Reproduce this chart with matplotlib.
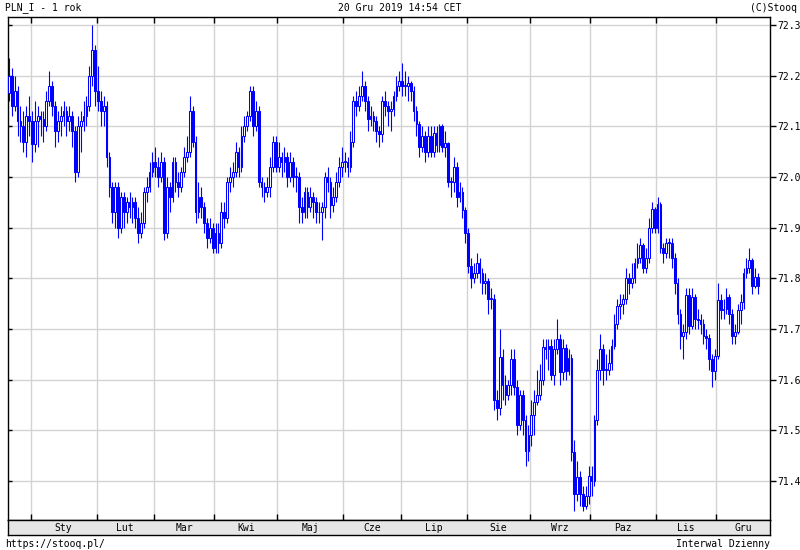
import numpy as np
import pandas as pd
import matplotlib
matplotlib.use("Agg")
import matplotlib.pyplot as plt

# ---------------- data (PLN_I, daily candles, 2018-12-20 .. 2019-12-20) ----------------
dates = pd.bdate_range("2018-12-20", "2019-12-20")

opens = [
    72.165, 72.20, 72.14, 72.17, 72.11, 72.10, 72.07, 72.12,
    72.11, 72.065, 72.11, 72.12, 72.115, 72.10, 72.15, 72.18, 72.14, 72.09, 72.11, 72.12,
    72.13, 72.11, 72.12, 72.09, 72.01, 72.10, 72.11, 72.12, 72.14, 72.20, 72.25,
    72.17, 72.15, 72.13, 72.14, 72.04, 71.98, 71.93, 71.98, 71.90, 71.96,
    71.93, 71.95, 71.94, 71.95, 71.92, 71.89, 71.91, 71.97, 71.98, 72.01,
    72.03, 72.02, 72.00, 72.03, 71.89, 71.98, 71.96, 72.03, 71.99, 71.98,
    72.01, 72.04, 72.05, 72.13, 72.07, 71.93, 71.96, 71.94, 71.91, 71.88, 71.90,
    71.86, 71.89, 71.87, 71.93, 71.92, 71.99, 72.00, 72.01, 72.05, 72.02, 72.08,
    72.10, 72.12, 72.17, 72.10, 72.13, 71.99, 71.98, 71.97, 71.98, 72.02, 72.07,
    72.02, 72.04, 72.03, 72.04, 72.00, 72.03, 72.00, 72.00, 71.94, 71.93, 71.97,
    71.94, 71.96, 71.95, 71.93, 71.93, 71.94, 72.00, 71.99, 71.945, 71.96, 71.99, 72.02,
    72.03, 72.03, 72.02, 72.07, 72.15, 72.14, 72.16, 72.18, 72.15, 72.115,
    72.12, 72.11, 72.09, 72.085, 72.15, 72.14, 72.13, 72.135, 72.16, 72.18,
    72.19, 72.18, 72.18, 72.185, 72.17, 72.13, 72.105, 72.06, 72.08, 72.05, 72.08,
    72.05, 72.087, 72.064, 72.10, 72.06, 72.067, 71.99, 71.99, 72.02, 71.96, 71.97, 71.935,
    71.89, 71.825, 71.80, 71.81, 71.83, 71.81, 71.79, 71.795, 71.76, 71.76, 71.56,
    71.545, 71.645, 71.59, 71.57, 71.59, 71.64, 71.585, 71.51, 71.57, 71.52, 71.46,
    71.49, 71.53, 71.555, 71.57, 71.60, 71.665, 71.66, 71.667, 71.61, 71.66, 71.68,
    71.615, 71.663, 71.617, 71.643, 71.457, 71.375, 71.408, 71.375, 71.35, 71.37,
    71.41, 71.40, 71.52, 71.62, 71.66, 71.62, 71.62, 71.633, 71.666, 71.71, 71.745, 71.75,
    71.76, 71.80, 71.79, 71.80, 71.83, 71.84, 71.865, 71.82, 71.84, 71.90, 71.937,
    71.90, 71.947, 71.86, 71.85, 71.87, 71.87, 71.84, 71.79, 71.73, 71.686, 71.695,
    71.767, 71.705, 71.763, 71.72, 71.717, 71.71, 71.686, 71.683, 71.64, 71.617,
    71.646, 71.757, 71.738, 71.74, 71.764, 71.73, 71.686, 71.695, 71.738, 71.754,
    71.81, 71.82, 71.836, 71.784, 71.803,
]

closes = [
    72.20, 72.14, 72.17, 72.11, 72.10, 72.07, 72.12, 72.11,
    72.065, 72.11, 72.12, 72.115, 72.10, 72.15, 72.18, 72.14, 72.09, 72.11, 72.12, 72.13,
    72.11, 72.12, 72.09, 72.01, 72.10, 72.11, 72.12, 72.14, 72.20, 72.25, 72.17,
    72.15, 72.13, 72.14, 72.04, 71.98, 71.93, 71.98, 71.90, 71.96, 71.93,
    71.95, 71.94, 71.95, 71.92, 71.89, 71.91, 71.97, 71.98, 72.01, 72.03,
    72.02, 72.00, 72.03, 71.89, 71.98, 71.96, 72.03, 71.99, 71.98, 72.01,
    72.04, 72.05, 72.13, 72.07, 71.93, 71.96, 71.94, 71.91, 71.88, 71.90, 71.86,
    71.89, 71.87, 71.93, 71.92, 71.99, 72.00, 72.01, 72.05, 72.02, 72.08, 72.10,
    72.12, 72.17, 72.10, 72.13, 71.99, 71.98, 71.97, 71.98, 72.02, 72.07, 72.02,
    72.04, 72.03, 72.04, 72.00, 72.03, 72.00, 72.00, 71.94, 71.93, 71.97, 71.94,
    71.96, 71.95, 71.93, 71.93, 71.94, 72.00, 71.99, 71.945, 71.96, 71.99, 72.02, 72.03,
    72.03, 72.02, 72.07, 72.15, 72.14, 72.16, 72.18, 72.15, 72.115, 72.12,
    72.11, 72.09, 72.085, 72.15, 72.14, 72.13, 72.135, 72.16, 72.18, 72.19,
    72.18, 72.18, 72.185, 72.17, 72.13, 72.105, 72.06, 72.08, 72.05, 72.08, 72.05,
    72.087, 72.064, 72.10, 72.06, 72.067, 71.99, 71.99, 72.02, 71.96, 71.97, 71.935, 71.89,
    71.825, 71.80, 71.81, 71.83, 71.81, 71.79, 71.795, 71.76, 71.76, 71.56, 71.545,
    71.645, 71.59, 71.57, 71.59, 71.64, 71.585, 71.51, 71.57, 71.52, 71.46, 71.49,
    71.53, 71.555, 71.57, 71.60, 71.665, 71.66, 71.667, 71.61, 71.66, 71.68, 71.615,
    71.663, 71.617, 71.643, 71.457, 71.375, 71.408, 71.375, 71.35, 71.37, 71.41,
    71.40, 71.52, 71.62, 71.66, 71.62, 71.62, 71.633, 71.666, 71.71, 71.745, 71.75, 71.76,
    71.80, 71.79, 71.80, 71.83, 71.84, 71.865, 71.82, 71.84, 71.90, 71.937, 71.90,
    71.947, 71.86, 71.85, 71.87, 71.87, 71.84, 71.79, 71.73, 71.686, 71.695, 71.767,
    71.705, 71.763, 71.72, 71.717, 71.71, 71.686, 71.683, 71.64, 71.617, 71.646,
    71.757, 71.738, 71.74, 71.764, 71.73, 71.686, 71.695, 71.738, 71.754, 71.81,
    71.82, 71.836, 71.784, 71.803, 71.784,
]

highs = [
    72.235, 72.215, 72.20, 72.18, 72.14, 72.13, 72.14, 72.16,
    72.13, 72.15, 72.14, 72.13, 72.13, 72.17, 72.21, 72.19, 72.15, 72.13, 72.14, 72.15,
    72.14, 72.14, 72.13, 72.10, 72.12, 72.13, 72.15, 72.16, 72.22, 72.30, 72.26,
    72.22, 72.17, 72.16, 72.15, 72.05, 71.99, 71.99, 71.99, 71.97, 71.97,
    71.96, 71.97, 71.96, 71.96, 71.94, 71.93, 71.98, 72.00, 72.03, 72.05,
    72.06, 72.04, 72.05, 72.04, 72.00, 71.99, 72.04, 72.04, 72.01, 72.02,
    72.06, 72.08, 72.16, 72.14, 72.08, 71.99, 71.98, 71.95, 71.92, 71.92, 71.91,
    71.91, 71.91, 71.95, 71.95, 72.00, 72.02, 72.03, 72.07, 72.06, 72.10, 72.12,
    72.13, 72.18, 72.18, 72.15, 72.14, 72.00, 71.99, 72.00, 72.04, 72.08, 72.08,
    72.07, 72.05, 72.06, 72.05, 72.05, 72.04, 72.02, 72.01, 71.96, 71.98, 71.98,
    71.98, 71.97, 71.96, 71.95, 71.95, 72.01, 72.02, 72.00, 71.98, 72.01, 72.04, 72.06,
    72.05, 72.04, 72.09, 72.16, 72.17, 72.18, 72.21, 72.19, 72.16, 72.14,
    72.13, 72.12, 72.10, 72.16, 72.17, 72.15, 72.15, 72.17, 72.20, 72.21,
    72.225, 72.21, 72.20, 72.19, 72.18, 72.14, 72.11, 72.10, 72.09, 72.10, 72.10,
    72.10, 72.10, 72.105, 72.105, 72.09, 72.07, 72.00, 72.04, 72.03, 71.99, 71.98, 71.94,
    71.90, 71.84, 71.83, 71.85, 71.84, 71.82, 71.81, 71.80, 71.78, 71.77, 71.58,
    71.70, 71.66, 71.61, 71.60, 71.66, 71.66, 71.60, 71.58, 71.58, 71.53, 71.51,
    71.56, 71.58, 71.62, 71.63, 71.68, 71.68, 71.68, 71.68, 71.68, 71.72, 71.69,
    71.68, 71.67, 71.66, 71.65, 71.48, 71.44, 71.42, 71.39, 71.39, 71.43,
    71.43, 71.53, 71.64, 71.69, 71.67, 71.65, 71.66, 71.68, 71.73, 71.76, 71.77, 71.77,
    71.82, 71.81, 71.83, 71.84, 71.87, 71.88, 71.87, 71.86, 71.92, 71.95, 71.94,
    71.96, 71.95, 71.87, 71.88, 71.88, 71.88, 71.85, 71.80, 71.74, 71.71, 71.78,
    71.78, 71.78, 71.77, 71.74, 71.73, 71.72, 71.70, 71.69, 71.65, 71.66,
    71.79, 71.77, 71.76, 71.78, 71.77, 71.74, 71.71, 71.75, 71.77, 71.82,
    71.84, 71.86, 71.84, 71.82, 71.81,
]

lows = [
    72.15, 72.12, 72.13, 72.08, 72.07, 72.05, 72.04, 72.08,
    72.03, 72.05, 72.06, 72.08, 72.07, 72.09, 72.14, 72.12, 72.06, 72.07, 72.08, 72.10,
    72.08, 72.09, 72.06, 71.99, 72.00, 72.05, 72.09, 72.10, 72.13, 72.18, 72.14,
    72.13, 72.10, 72.10, 72.02, 71.96, 71.91, 71.90, 71.88, 71.89, 71.90,
    71.91, 71.92, 71.91, 71.90, 71.87, 71.88, 71.90, 71.95, 71.97, 72.00,
    72.00, 71.98, 71.99, 71.875, 71.88, 71.93, 71.95, 71.97, 71.96, 71.97,
    72.00, 72.03, 72.04, 72.06, 71.91, 71.92, 71.92, 71.89, 71.86, 71.87, 71.85,
    71.85, 71.85, 71.86, 71.90, 71.91, 71.97, 71.98, 72.00, 72.00, 72.01, 72.07,
    72.09, 72.11, 72.08, 72.09, 71.98, 71.96, 71.95, 71.96, 71.96, 72.01, 72.01,
    72.01, 72.00, 72.01, 71.98, 71.99, 71.98, 71.97, 71.91, 71.91, 71.92, 71.92,
    71.93, 71.92, 71.91, 71.91, 71.875, 71.92, 71.97, 71.92, 71.93, 71.95, 71.98, 72.00,
    72.01, 72.00, 72.01, 72.06, 72.12, 72.13, 72.15, 72.13, 72.09, 72.10,
    72.09, 72.07, 72.06, 72.07, 72.12, 72.10, 72.09, 72.12, 72.15, 72.17,
    72.16, 72.16, 72.15, 72.15, 72.11, 72.08, 72.04, 72.05, 72.03, 72.04, 72.04,
    72.04, 72.05, 72.05, 72.05, 72.04, 71.98, 71.96, 71.97, 71.94, 71.95, 71.92, 71.87,
    71.81, 71.78, 71.79, 71.80, 71.79, 71.77, 71.77, 71.73, 71.74, 71.54, 71.52,
    71.53, 71.56, 71.55, 71.56, 71.57, 71.57, 71.49, 71.50, 71.49, 71.43, 71.44,
    71.47, 71.49, 71.55, 71.56, 71.59, 71.64, 71.62, 71.60, 71.59, 71.65, 71.59,
    71.60, 71.60, 71.61, 71.44, 71.34, 71.36, 71.35, 71.34, 71.345, 71.355,
    71.37, 71.39, 71.51, 71.60, 71.59, 71.60, 71.61, 71.62, 71.66, 71.70, 71.72, 71.73,
    71.75, 71.77, 71.78, 71.79, 71.82, 71.83, 71.81, 71.81, 71.83, 71.89, 71.89,
    71.89, 71.85, 71.83, 71.84, 71.84, 71.82, 71.77, 71.71, 71.66, 71.64, 71.68,
    71.69, 71.70, 71.70, 71.70, 71.69, 71.67, 71.66, 71.62, 71.585, 71.60,
    71.64, 71.72, 71.72, 71.73, 71.71, 71.67, 71.67, 71.69, 71.71, 71.74,
    71.80, 71.81, 71.77, 71.78, 71.77,
]

month_labels = ["Sty", "Lut", "Mar", "Kwi", "Maj", "Cze", "Lip", "Sie", "Wrz", "Paz", "Lis", "Gru"]
y_ticks = [71.4, 71.5, 71.6, 71.7, 71.8, 71.9, 72.0, 72.1, 72.2, 72.3]

# ---------------- layout ----------------
W, H = 800, 550
FONT = "DejaVu Sans Mono"
FS = 7.0
BLUE = "#0000ff"
GRID = "#d3d3d3"

n = min(len(dates), len(opens), len(closes), len(highs), len(lows))
idx = np.arange(n)
o = np.array(opens[:n]); c = np.array(closes[:n])
hi = np.array(highs[:n]); lo = np.array(lows[:n])

fig = plt.figure(figsize=(W / 100, H / 100), dpi=100)
fig.patch.set_facecolor("white")

def px_rect(x0, y0, x1, y1):
    return [x0 / W, 1 - y1 / H, (x1 - x0) / W, (y1 - y0) / H]

ax = fig.add_axes(px_rect(8, 17, 770, 520))
xlim = (-0.35, 265.2)
ylim = (71.3231, 72.3158)
ax.set_xlim(*xlim)
ax.set_ylim(*ylim)

# month boundaries
d = pd.DatetimeIndex(dates[:n])
month_start = [i for i in range(1, n) if d[i].month != d[i - 1].month]
bounds = [i - 0.5 for i in month_start]

for b in bounds:
    ax.axvline(b, color=GRID, lw=1.0, zorder=0)
for yv in y_ticks:
    ax.axhline(yv, color=GRID, lw=1.0, zorder=0)

# candles
ax.vlines(idx, lo, hi, color=BLUE, lw=0.8, zorder=2)
up = c >= o
body_bot = np.minimum(o, c)
body_h = np.maximum(np.abs(c - o), 0.0015)
face = np.where(up, "white", BLUE)
ax.bar(idx, body_h, bottom=body_bot, width=0.6, color=list(face),
       edgecolor=BLUE, linewidth=0.75, zorder=3)

for s in ax.spines.values():
    s.set_color("black")
    s.set_linewidth(1.0)

ax.set_xticks(bounds)
ax.tick_params(axis="x", which="both", direction="in", length=4, top=True, bottom=True,
               labelbottom=False, width=1.0, color="black")
ax.set_yticks(y_ticks)
ax.tick_params(axis="y", direction="in", length=3, left=True, right=False,
               labelleft=False, width=1.0)

ax2 = ax.twinx()
ax2.set_ylim(*ylim)
ax2.set_yticks(y_ticks)
ax2.set_yticklabels([f"{v:.1f}" for v in y_ticks], fontfamily=FONT, fontsize=FS)
ax2.tick_params(axis="y", direction="out", length=4, width=1.0, pad=1.0, colors="black")
for s in ax2.spines.values():
    s.set_visible(False)

# month label band
band = fig.add_axes(px_rect(8, 520, 770, 535))
band.set_facecolor("#e6e6e6")
band.set_xlim(*xlim)
band.set_ylim(0, 1)
band.set_xticks([]); band.set_yticks([])
for s in band.spines.values():
    s.set_color("black"); s.set_linewidth(1.0)
edges = bounds + [xlim[1]]
for k in range(len(edges) - 1):
    mid = (edges[k] + edges[k + 1]) / 2
    band.text(mid, 0.45, month_labels[k % 12], ha="center", va="center",
              fontfamily=FONT, fontsize=FS)

# header / footer
fig.text(5 / W, 1 - 8 / H, "PLN_I - 1 rok", ha="left", va="center", fontfamily=FONT, fontsize=FS)
fig.text(400 / W, 1 - 8 / H, "20 Gru 2019 14:54 CET", ha="center", va="center", fontfamily=FONT, fontsize=FS)
fig.text(797 / W, 1 - 8 / H, "(C)Stooq", ha="right", va="center", fontfamily=FONT, fontsize=FS)
fig.text(5 / W, 1 - 544 / H, "https://stooq.pl/", ha="left", va="center", fontfamily=FONT, fontsize=FS)
fig.text(770 / W, 1 - 544 / H, "Interwal Dzienny", ha="right", va="center", fontfamily=FONT, fontsize=FS)

fig.savefig("out.png", dpi=100)
